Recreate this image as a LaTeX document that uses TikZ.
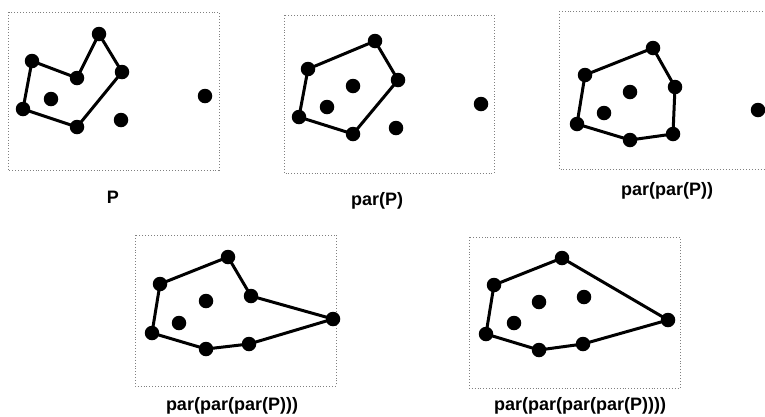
\documentclass[tikz,border=0pt]{standalone}
\usepackage{fontspec}
\setmainfont{Liberation Sans}
\usepackage{tikz}

\tikzset{
  pt/.style={circle, fill=black, inner sep=0pt, minimum size=14.5pt},
  frame/.style={dotted, gray, line width=0.9pt},
  hull/.style={line width=3pt, line join=round},
  caption/.style={font=\fontsize{18}{22}\selectfont\bfseries}
}

\begin{document}
\begin{tikzpicture}[x=1pt, y=-1pt]
  \useasboundingbox (0,0) rectangle (765,416);
  \clip (0,0) rectangle (765,416);

  % P
  \begin{scope}[shift={(8,12)}]
    \draw[frame] (0,0) rectangle (211,158);
    \node[pt] (p1a) at (24,49) {};
    \node[pt] (p1b) at (69,66) {};
    \node[pt] (p1c) at (91,22) {};
    \node[pt] (p1d) at (114,60) {};
    \node[pt] (p1e) at (69,115) {};
    \node[pt] (p1f) at (15,97) {};
    \node[pt] (p1g) at (43,87) {};
    \node[pt] (p1h) at (113,108) {};
    \node[pt] (p1i) at (197,84) {};
    \draw[hull] (p1a.center) -- (p1b.center) -- (p1c.center) -- (p1d.center)
                -- (p1e.center) -- (p1f.center) -- cycle;
    \node[caption] (l1) at (105,185) {P};
  \end{scope}

  % par(P)
  \begin{scope}[shift={(284,15)}]
    \draw[frame] (0,0) rectangle (210,158);
    \node[pt] (p2a) at (24,54) {};
    \node[pt] (p2b) at (91,26) {};
    \node[pt] (p2c) at (114,65) {};
    \node[pt] (p2d) at (69,119) {};
    \node[pt] (p2e) at (15,102) {};
    \node[pt] (p2f) at (69,71) {};
    \node[pt] (p2g) at (43,92) {};
    \node[pt] (p2h) at (112,113) {};
    \node[pt] (p2i) at (197,89) {};
    \draw[hull] (p2a.center) -- (p2b.center) -- (p2c.center) -- (p2d.center)
                -- (p2e.center) -- cycle;
    \node[caption] (l2) at (93,186) {par(P)};
  \end{scope}

  % par(par(P))
  \begin{scope}[shift={(559,11)}]
    \draw[frame] (0,0) rectangle (215,158);
    \node[pt] (p3a) at (26,64) {};
    \node[pt] (p3b) at (94,37) {};
    \node[pt] (p3c) at (116,76) {};
    \node[pt] (p3d) at (114,123) {};
    \node[pt] (p3e) at (71,129) {};
    \node[pt] (p3f) at (18,113) {};
    \node[pt] (p3g) at (71,81) {};
    \node[pt] (p3h) at (45,102) {};
    \node[pt] (p3i) at (199,99) {};
    \draw[hull] (p3a.center) -- (p3b.center) -- (p3c.center) -- (p3d.center)
                -- (p3e.center) -- (p3f.center) -- cycle;
    \node[caption] (l3) at (108,180) {par(par(P))};
  \end{scope}

  % par(par(par(P)))
  \begin{scope}[shift={(135,235)}]
    \draw[frame] (0,0) rectangle (201,151);
    \node[pt] (p4a) at (25,49) {};
    \node[pt] (p4b) at (93,22) {};
    \node[pt] (p4c) at (116,61) {};
    \node[pt] (p4d) at (198,84) {};
    \node[pt] (p4e) at (114,109) {};
    \node[pt] (p4f) at (71,114) {};
    \node[pt] (p4g) at (17,98) {};
    \node[pt] (p4h) at (71,66) {};
    \node[pt] (p4i) at (44,88) {};
    \draw[hull] (p4a.center) -- (p4b.center) -- (p4c.center) -- (p4d.center)
                -- (p4e.center) -- (p4f.center) -- (p4g.center) -- cycle;
    \node[caption] (l4) at (97,171) {par(par(par(P)))};
  \end{scope}

  % par(par(par(par(P))))
  \begin{scope}[shift={(469,237)}]
    \draw[frame] (0,0) rectangle (211,151);
    \node[pt] (p5a) at (25,48) {};
    \node[pt] (p5b) at (93,21) {};
    \node[pt] (p5c) at (199,83) {};
    \node[pt] (p5d) at (114,107) {};
    \node[pt] (p5e) at (70,113) {};
    \node[pt] (p5f) at (17,97) {};
    \node[pt] (p5g) at (115,60) {};
    \node[pt] (p5h) at (70,65) {};
    \node[pt] (p5i) at (45,86) {};
    \draw[hull] (p5a.center) -- (p5b.center) -- (p5c.center) -- (p5d.center)
                -- (p5e.center) -- (p5f.center) -- cycle;
    \node[caption] (l5) at (111,169) {par(par(par(par(P))))};
  \end{scope}

\end{tikzpicture}
\end{document}
